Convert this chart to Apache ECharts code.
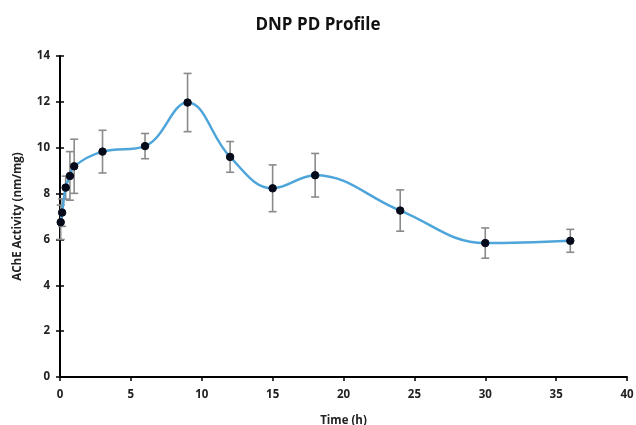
<!DOCTYPE html>
<html><head><meta charset="utf-8">
<script src="https://cdn.jsdelivr.net/npm/echarts@6/dist/echarts.min.js"></script>
<style>html,body{margin:0;padding:0;background:#fff}#c{width:636px;height:425px}</style>
</head><body><div id="c"></div>
<script>
const times = [0.05, 0.15, 0.4, 0.7, 1, 3, 6, 9, 12, 15, 18, 24, 30, 36];
const values = [6.75, 7.17, 8.26, 8.77, 9.19, 9.83, 10.07, 11.97, 9.6, 8.23, 8.8, 7.26, 5.84, 5.94];
const errors = [0.75, 0.6, 0.5, 1.06, 1.18, 0.93, 0.55, 1.27, 0.67, 1.02, 0.95, 0.9, 0.66, 0.5];
const xTicks = [0, 5, 10, 15, 20, 25, 30, 35, 40];
const yTicks = [0, 2, 4, 6, 8, 10, 12, 14];

const font = 'Open Sans';
const pts = times.map((t, i) => [t, values[i]]);
const errData = times.map((t, i) => [t, values[i] - errors[i], values[i] + errors[i]]);
const chart = echarts.init(document.getElementById('c'), null, {renderer: 'canvas'});
const axisLbl = {color: '#222', fontWeight: 'bold', fontSize: 11.5, fontFamily: font};
chart.setOption({
  animation: false,
  title: {text: 'DNP PD Profile', left: 'center', top: 12,
    textStyle: {fontFamily: font, fontWeight: 'bold', fontSize: 17, color: '#111'}},
  grid: {left: 60, right: 9, top: 56, bottom: 48, outerBoundsMode: 'none', containLabel: false},
  xAxis: {type: 'value', min: xTicks[0], max: xTicks[xTicks.length - 1], interval: 5,
    name: 'Time (h)', nameLocation: 'middle', nameGap: 38,
    nameTextStyle: {fontFamily: font, fontWeight: 'bold', fontSize: 11.5, color: '#222'},
    axisLine: {lineStyle: {color: '#000', width: 2}},
    axisTick: {show: true, length: 4, lineStyle: {color: '#000', width: 1.5}},
    axisLabel: Object.assign({margin: 12}, axisLbl),
    splitLine: {show: false}},
  yAxis: [{type: 'value', min: yTicks[0], max: yTicks[yTicks.length - 1], interval: 2,
    name: 'AChE Activity (nm/mg)', nameLocation: 'middle', nameGap: 36,
    nameTextStyle: {fontFamily: font, fontWeight: 'bold', fontSize: 11.5, color: '#222'},
    axisLine: {lineStyle: {color: '#000', width: 2}},
    axisTick: {show: true, length: 4, lineStyle: {color: '#000', width: 1.5}},
    axisLabel: Object.assign({margin: 10}, axisLbl),
    splitLine: {show: false}},
   {type: 'value', position: 'left', min: yTicks[0], max: yTicks[yTicks.length - 1], interval: 2,
    axisLine: {show: false}, axisLabel: {show: false}, splitLine: {show: false},
    axisTick: {show: true, inside: true, length: 4, lineStyle: {color: '#000', width: 1.5}}}],
  series: [
    {type: 'custom', data: errData, z: 1,
      renderItem: function (params, api) {
        const x = api.value(0);
        const lo = api.coord([x, api.value(1)]);
        const hi = api.coord([x, api.value(2)]);
        const w = 4;
        const st = {stroke: '#8a8a8a', lineWidth: 1.6};
        return {type: 'group', children: [
          {type: 'line', shape: {x1: lo[0], y1: lo[1], x2: hi[0], y2: hi[1]}, style: st},
          {type: 'line', shape: {x1: lo[0] - w, y1: lo[1], x2: lo[0] + w, y2: lo[1]}, style: st},
          {type: 'line', shape: {x1: hi[0] - w, y1: hi[1], x2: hi[0] + w, y2: hi[1]}, style: st}
        ]};
      }},
    {type: 'line', data: pts, smooth: 0.4, z: 2,
      lineStyle: {color: '#4ea5d9', width: 2.5},
      symbol: 'circle', symbolSize: 7.5,
      itemStyle: {color: '#050a1a', borderColor: '#050a1a'}}
  ]
});
</script></body></html>
